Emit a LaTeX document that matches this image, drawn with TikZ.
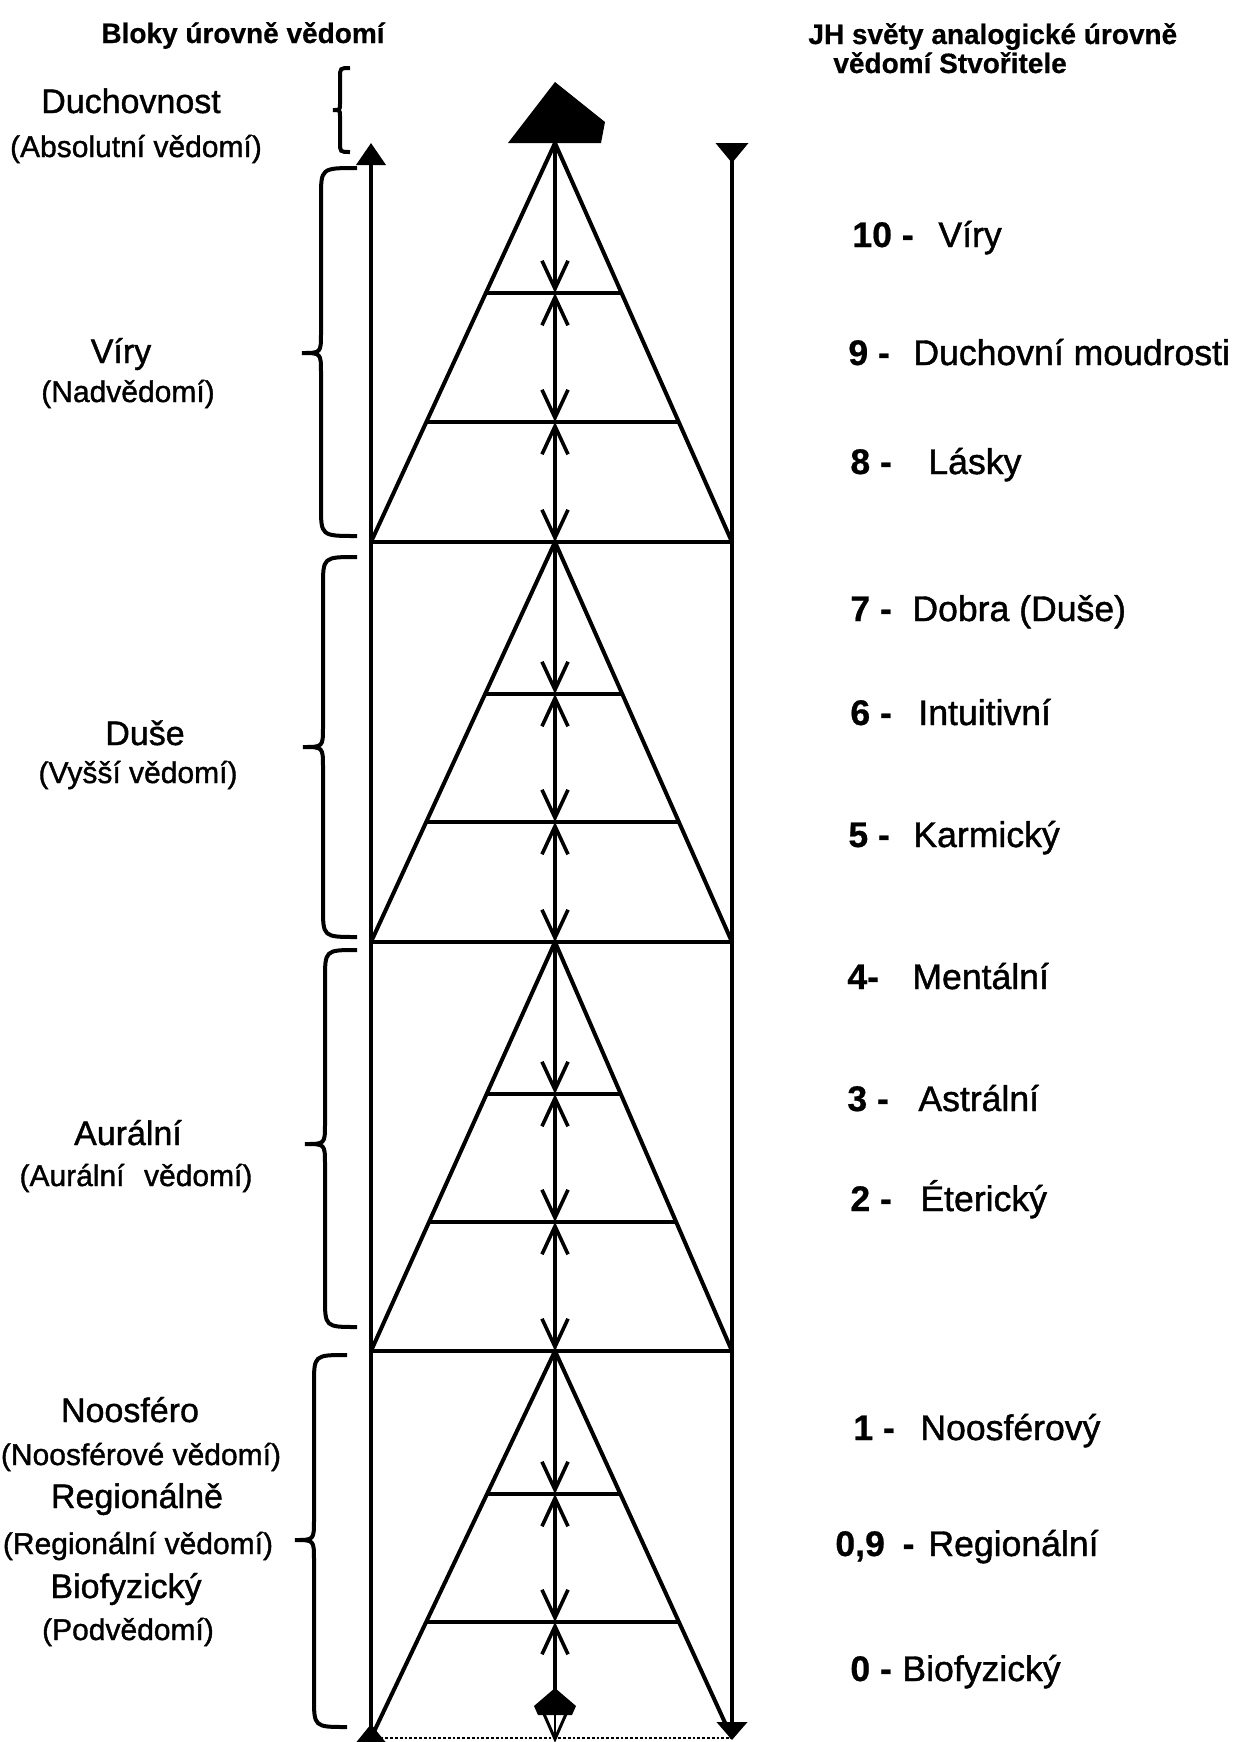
\documentclass[tikz,border=0pt]{standalone}
\usepackage{fontspec}
\setmainfont[FakeBold=1.2]{Liberation Sans}
\newfontfamily\numfont[FakeBold=0.6]{Liberation Sans Bold}
\usetikzlibrary{arrows.meta,calc}
\newcommand\drawbrace[8]{%
  \draw[ln] ({#1},{#4}) .. controls ({#2},{#4}) .. ({#2},{#4+#7})
    -- ({#2},{#5-#8}) .. controls ({#2},{#5}) .. ({#3},{#5})
    .. controls ({#2},{#5}) .. ({#2},{#5+#8})
    -- ({#2},{#6-#7}) .. controls ({#2},{#6}) .. ({#1},{#6});}
\begin{document}
\begin{tikzpicture}[x=0.5pt,y=-0.5pt,
  ln/.style={line width=2pt},
  barb/.tip={Straight Barb[length=14pt,width=13pt,line width=1.8pt]},
  arr/.style={ln,-barb},
  darr/.style={ln,barb-barb},
  big/.style={font=\fontsize{17}{19}\selectfont,anchor=base,inner sep=0pt},
  small/.style={font=\fontsize{15}{18}\selectfont,anchor=base,inner sep=0pt},
  num/.style={font=\fontsize{17.8}{20}\numfont,anchor=base west,inner sep=0pt},
  word/.style={font=\fontsize{17.8}{20}\selectfont,anchor=base west,inner sep=0pt},
  hdr/.style={font=\fontsize{14}{16}\numfont,inner sep=0pt},
]
\useasboundingbox (0,0) rectangle (1236,1742);

% ---- headers
\node[hdr,anchor=base] (hL) at (243,43) {Bloky úrovně vědomí};
\node[hdr,anchor=base west] (hR1) at (808,44) {JH světy analogické úrovně};
\node[hdr,anchor=base west] (hR2) at (833,73) {vědomí Stvořitele};

% ---- top filled pyramid
\fill (508,143) -- (555,82) -- (605,122) -- (601,143) -- cycle;

% ---- outer vertical lines
\coordinate (VLt) at (371,143);
\coordinate (VLb) at (371,1742);
\coordinate (VRt) at (732,143);
\coordinate (VRb) at (732,1740);
\draw[ln,{Triangle[length=11pt,width=14.5pt]}-{Triangle[reversed,length=9pt,width=14pt]}] (VLt) -- (VLb);
\draw[ln,{Triangle[reversed,length=10pt,width=16pt]}-{Triangle[length=9pt,width=15pt]}] (VRt) -- (VRb);

% ---- blocks
\foreach \i/\ya/\yb/\ta/\tb in {1/143/542/293/422, 2/542/942/694/822, 3/942/1351/1094/1222, 4/1351/1738/1494/1622}{
  \coordinate (A\i) at (555,\ya);
  \coordinate (L\i) at (371,\yb);
  \coordinate (R\i) at (732,\yb);
  \coordinate (M\i) at (555,\yb);
  \coordinate (Ca\i) at (555,\ta);
  \coordinate (Cb\i) at (555,\tb);
  \coordinate (Pa\i) at ($(A\i)!{(\ta-\ya)/(\yb-\ya)}!(L\i)$);
  \coordinate (Qa\i) at ($(A\i)!{(\ta-\ya)/(\yb-\ya)}!(R\i)$);
  \coordinate (Pb\i) at ($(A\i)!{(\tb-\ya)/(\yb-\ya)}!(L\i)$);
  \coordinate (Qb\i) at ($(A\i)!{(\tb-\ya)/(\yb-\ya)}!(R\i)$);
  \draw[ln,line join=miter] (L\i) -- (A\i) -- (R\i);
  \draw[ln] (Pa\i) -- (Qa\i);
  \draw[ln] (Pb\i) -- (Qb\i);
  \draw[arr] (A\i) -- (Ca\i);
  \draw[darr] (Ca\i) -- (Cb\i);
}
\foreach \i in {1,2,3}{
  \draw[ln] (L\i) -- (R\i);
  \draw[darr] (Cb\i) -- (M\i);
}
% bottom base line
\draw[line width=1.4pt,densely dotted] (L4) -- (R4);
% bottom centre ending
\coordinate (Bend) at (555,1692);
\draw[ln,barb-] (Cb4) -- (Bend);
\fill (555,1688) -- (576,1706) -- (572,1715) -- (538,1715) -- (534,1706) -- cycle;
\draw[line width=1.5pt,line join=miter] (544,1714) -- (555,1739) -- (566,1714);
\draw[line width=1.2pt] (555,1714) -- (555,1739);

% ---- braces
\drawbrace{350}{340}{333}{68}{110}{152}{10}{6}
\drawbrace{357}{321}{302}{168}{353}{536}{30}{20}
\drawbrace{357}{323}{303}{557}{747}{937}{30}{20}
\drawbrace{357}{325}{305}{950}{1144}{1327}{30}{20}
\drawbrace{347}{314}{295}{1355}{1540}{1727}{30}{20}

% ---- left labels
\node[big] (l0a) at (131,113) {Duchovnost};
\node[small] (l0b) at (136,157) {(Absolutní vědomí)};
\node[big] (l1a) at (121,363) {Víry};
\node[small] (l1b) at (128,402) {(Nadvědomí)};
\node[big] (l2a) at (145,745) {Duše};
\node[small] (l2b) at (138,783) {(Vyšší vědomí)};
\node[big] (l3a) at (128,1145) {Aurální};
\node[small] (l3b) at (136,1186) {(Aurální\hspace{0.65em}vědomí)};
\node[big] (l4a) at (130,1422) {Noosféro};
\node[small] (l4b) at (141,1465) {(Noosférové vědomí)};
\node[big] (l5a) at (137,1508) {Regionálně};
\node[small] (l5b) at (138,1554) {(Regionální vědomí)};
\node[big] (l6a) at (126,1598) {Biofyzický};
\node[small] (l6b) at (128,1640) {(Podvědomí)};

% ---- right labels
\node[num] (n10) at (852,247) {10 -};   \node[word] (w10) at (938,247) {Víry};
\node[num] (n9) at (848,365) {9 -};     \node[word] (w9) at (913,365) {Duchovní moudrosti};
\node[num] (n8) at (850,474) {8 -};     \node[word] (w8) at (928,474) {Lásky};
\node[num] (n7) at (850,621) {7 -};     \node[word] (w7) at (912,621) {Dobra (Duše)};
\node[num] (n6) at (850,725) {6 -};     \node[word] (w6) at (918,725) {Intuitivní};
\node[num] (n5) at (848,847) {5 -};     \node[word] (w5) at (913,847) {Karmický};
\node[num] (n4) at (847,989) {4-};      \node[word] (w4) at (912,989) {Mentální};
\node[num] (n3) at (847,1111) {3 -};    \node[word] (w3) at (918,1111) {Astrální};
\node[num] (n2) at (850,1211) {2 -};    \node[word] (w2) at (920,1211) {Éterický};
\node[num] (n1) at (853,1440) {1 -};    \node[word] (w1) at (920,1440) {Noosférový};
\node[num] (n09) at (835,1556) {0,9\hspace{0.5em}-}; \node[word] (w09) at (928,1556) {Regionální};
\node[num] (n0) at (850,1681) {0 -};    \node[word] (w0) at (902,1681) {Biofyzický};
\end{tikzpicture}
\end{document}
